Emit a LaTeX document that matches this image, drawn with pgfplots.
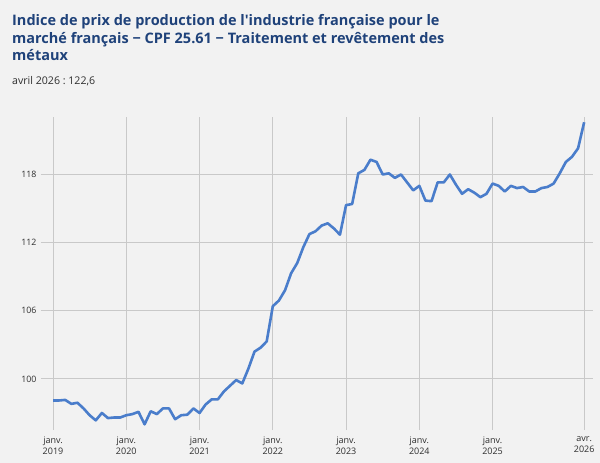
\documentclass[border=0pt]{standalone}
\usepackage{pgfplots}
\pgfplotsset{compat=1.18}
\usepackage{fontspec}
\setmainfont{Open Sans}[Ligatures=TeXOff]
\frenchspacing
\definecolor{bg}{HTML}{F2F2F2}
\definecolor{gridc}{HTML}{C9C9C9}
\definecolor{linec}{HTML}{4A7DCB}
\definecolor{titlec}{HTML}{1F427A}
\definecolor{textc}{HTML}{2E2E2E}
\pgfplotstableread{
m v
0 98.1
1 98.1
2 98.15
3 97.8
4 97.9
5 97.4
6 96.8
7 96.35
8 97.0
9 96.55
10 96.6
11 96.6
12 96.8
13 96.9
14 97.1
15 96.0
16 97.15
17 96.9
18 97.4
19 97.4
20 96.45
21 96.8
22 96.85
23 97.4
24 97.0
25 97.75
26 98.2
27 98.2
28 98.9
29 99.4
30 99.9
31 99.6
32 100.9
33 102.4
34 102.75
35 103.3
36 106.4
37 106.9
38 107.8
39 109.3
40 110.2
41 111.6
42 112.75
43 113.0
44 113.5
45 113.7
46 113.25
47 112.7
48 115.3
49 115.4
50 118.1
51 118.4
52 119.3
53 119.1
54 118.0
55 118.1
56 117.7
57 118.0
58 117.3
59 116.6
60 117.0
61 115.7
62 115.65
63 117.3
64 117.3
65 118.0
66 117.1
67 116.3
68 116.7
69 116.4
70 116.0
71 116.3
72 117.2
73 117.0
74 116.5
75 117.0
76 116.8
77 116.9
78 116.5
79 116.5
80 116.8
81 116.9
82 117.2
83 118.1
84 119.1
85 119.55
86 120.3
87 122.6
}\datatable
\begin{document}
\begin{tikzpicture}
\fill[bg] (0bp,0bp) rectangle (600bp,-463bp);
\node[anchor=base west,text=titlec,font=\bfseries\fontsize{14.5bp}{17bp}\selectfont,inner sep=0] at (12bp,-25bp) {Indice de prix de production de l'industrie française pour le};
\node[anchor=base west,text=titlec,font=\bfseries\fontsize{14.5bp}{17bp}\selectfont,inner sep=0] at (12bp,-43bp) {marché français − CPF 25.61 − Traitement et revêtement des};
\node[anchor=base west,text=titlec,font=\bfseries\fontsize{14.5bp}{17bp}\selectfont,inner sep=0] at (12bp,-60.5bp) {métaux};
\node[anchor=base west,text=textc,font=\fontsize{10.6bp}{12bp}\selectfont,inner sep=0] at (12bp,-84bp) {avril 2026 : 122,6};
\begin{axis}[
  at={(41bp,-430bp)}, anchor=south west,
  scale only axis, width=551.7bp, height=313bp,
  xmin=-1.97, xmax=88.4, ymin=95.5, ymax=123.06,
  axis line style={draw=none},
  major tick length=0pt,
  xtick={0,12,24,36,48,60,72,87},
  xticklabels={janv.\\2019,janv.\\2020,janv.\\2021,janv.\\2022,janv.\\2023,janv.\\2024,janv.\\2025,avr.\\2026},
  ytick={100,106,112,118},
  grid=major,
  major grid style={gridc,line width=0.9bp},
  x tick label style={align=center,font=\fontsize{9bp}{11.5bp}\selectfont,text=textc,yshift=-3bp},
  y tick label style={font=\fontsize{8.8bp}{10bp}\selectfont,text=textc,xshift=-1bp},
  /pgf/number format/assume math mode=true,
  clip=false,
]
\addplot[linec,line width=2.6bp,line join=round] table[x=m,y=v]{\datatable};
\end{axis}
\end{tikzpicture}
\end{document}
